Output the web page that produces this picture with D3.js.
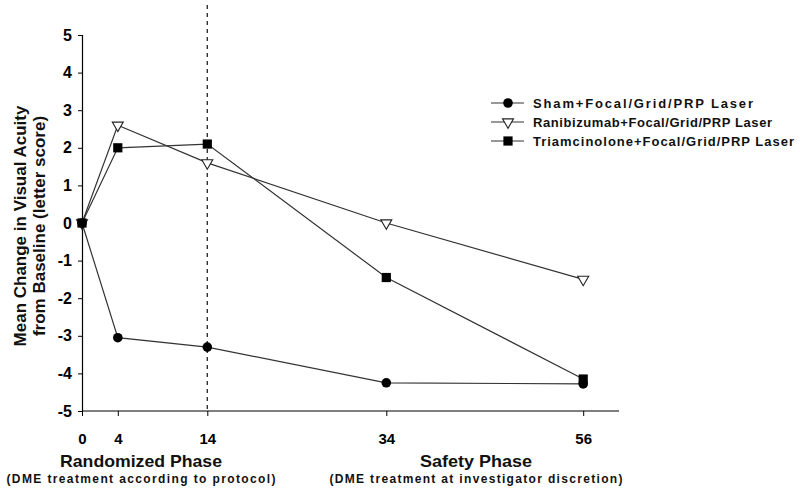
<!DOCTYPE html>
<html><head><meta charset="utf-8">
<script src="https://cdn.jsdelivr.net/npm/d3@7"></script>
<style>body{margin:0;background:#fff}svg{display:block}text{font-family:"Liberation Sans",Arial,sans-serif}</style>
</head><body><svg id="c" width="800" height="493"></svg>
<script>
const weeks = [0, 4, 14, 34, 56];
const xTicks = [0, 4, 14, 34, 56];
const yTicks = [5, 4, 3, 2, 1, 0, -1, -2, -3, -4, -5];
const seriesNames = ["Sham+Focal/Grid/PRP Laser", "Ranibizumab+Focal/Grid/PRP Laser", "Triamcinolone+Focal/Grid/PRP Laser"];
const sham = [0, -3.05, -3.3, -4.25, -4.28];
const ranibizumab = [0, 2.6, 1.6, 0.0, -1.5];
const triamcinolone = [0, 2.0, 2.1, -1.45, -4.15];
const phaseBoundary = 14;

const svg = d3.select("#c");
const x = d3.scaleLinear().domain([0, 60]).range([82, 619]);
const y = d3.scaleLinear().domain([-5, 5]).range([411, 35]);
const lineCol = "#333";

// dashed phase line
svg.append("line").attr("x1", x(phaseBoundary)).attr("x2", x(phaseBoundary))
  .attr("y1", 5).attr("y2", y(-5)).attr("stroke", "#333").attr("stroke-width", 1.4)
  .attr("stroke-dasharray", "4,4");

// axes
const yAxis = d3.axisLeft(y).tickValues(yTicks).tickSize(4).tickPadding(6).tickFormat(d3.format("d"));
const gy = svg.append("g").attr("transform", `translate(${x(0)},0)`).call(yAxis);
gy.select(".domain").attr("stroke", "#000").attr("stroke-width", 1.2);
gy.selectAll(".tick line").attr("stroke", "#000");
gy.selectAll(".tick text").attr("font-size", 16).attr("font-weight", "bold").attr("fill", "#000")
  .text(d => d < 0 ? "-" + Math.abs(d) : d);

const xAxis = d3.axisBottom(x).tickValues(xTicks).tickSize(5).tickPadding(17);
const gx = svg.append("g").attr("transform", `translate(0,${y(-5)})`).call(xAxis);
gx.select(".domain").attr("stroke", "#000").attr("stroke-width", 1.2).attr("d", `M${x(0)},0H${x(60)}`);
gx.selectAll(".tick line").attr("stroke", "#000");
gx.selectAll(".tick text").attr("font-size", 15).attr("font-weight", "bold").attr("fill", "#000");

// series
const series = [
  {name: seriesNames[1], vals: ranibizumab, sym: "tri"},
  {name: seriesNames[2], vals: triamcinolone, sym: "sq"},
  {name: seriesNames[0], vals: sham, sym: "circ"}
];
const line = d3.line().x((d, i) => x(weeks[i])).y(d => y(d));
function drawMarker(g, type, cx, cy) {
  if (type === "circ") {
    g.append("circle").attr("cx", cx).attr("cy", cy).attr("r", 4.8).attr("fill", "#000");
  } else if (type === "sq") {
    g.append("rect").attr("x", cx - 4.6).attr("y", cy - 4.6).attr("width", 9.2).attr("height", 9.2).attr("fill", "#000");
  } else {
    g.append("path").attr("d", d3.symbol(d3.symbolTriangle, 52)())
      .attr("transform", `translate(${cx},${cy}) rotate(180)`)
      .attr("fill", "#fff").attr("stroke", "#222").attr("stroke-width", 1.1);
  }
}
series.forEach(s => {
  svg.append("path").datum(s.vals).attr("d", line).attr("fill", "none")
    .attr("stroke", lineCol).attr("stroke-width", 1.2);
});
const order = ["tri", "circ", "sq"];
order.forEach(t => {
  const s = series.find(q => q.sym === t);
  const g = svg.append("g");
  s.vals.forEach((v, i) => drawMarker(g, s.sym, x(weeks[i]), y(v)));
});

// legend
const leg = [{name: seriesNames[0], sym: "circ"}, {name: seriesNames[1], sym: "tri"}, {name: seriesNames[2], sym: "sq"}];
const legW = [220, 239, 261];
leg.forEach((l, i) => {
  const ly = 103 + i * 19;
  const g = svg.append("g");
  g.append("line").attr("x1", 491).attr("x2", 524).attr("y1", ly).attr("y2", ly).attr("stroke", lineCol).attr("stroke-width", 1.2);
  drawMarker(g, l.sym, 508, ly);
  g.append("text").attr("x", 533).attr("y", ly + 5).attr("font-size", 13).attr("font-weight", "bold")
    .attr("fill", "#111").attr("textLength", legW[i]).attr("lengthAdjust", "spacing").text(l.name);
});

// y title
const yt = svg.append("text").attr("transform", "translate(0,226) rotate(-90)").attr("text-anchor", "middle")
  .attr("font-size", 17).attr("font-weight", "bold").attr("fill", "#111");
yt.append("tspan").attr("x", 0).attr("y", 26).text("Mean Change in Visual Acuity");
yt.append("tspan").attr("x", 0).attr("y", 45).text("from Baseline (letter score)");

// x phase labels
function phase(cx, t1, w1, t2, w2) {
  svg.append("text").attr("x", cx).attr("y", 467).attr("text-anchor", "middle").attr("font-size", 17)
    .attr("font-weight", "bold").attr("fill", "#111").attr("textLength", w1).attr("lengthAdjust", "spacingAndGlyphs").text(t1);
  svg.append("text").attr("x", cx).attr("y", 483).attr("text-anchor", "middle").attr("font-size", 12)
    .attr("font-weight", "bold").attr("fill", "#111").attr("textLength", w2).attr("lengthAdjust", "spacing").text(t2);
}
phase(141, "Randomized Phase", 162, "(DME treatment according to protocol)", 269);
phase(476, "Safety Phase", 112, "(DME treatment at investigator discretion)", 293);
</script></body></html>
